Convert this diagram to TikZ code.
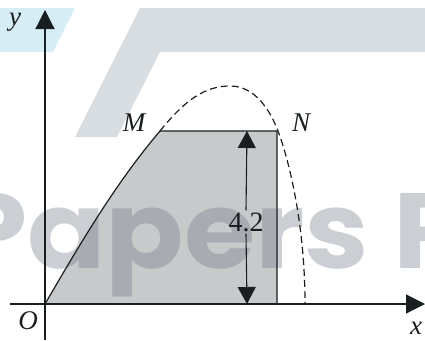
\documentclass[tikz,border=0pt]{standalone}
\usepackage{fontspec}
\setmainfont{Liberation Serif}
\newfontfamily\wmfont[FakeStretch=1.08]{Poppins}
\usetikzlibrary{arrows.meta}
\definecolor{regiongray}{RGB}{200,201,203}
\definecolor{bandgray}{RGB}{216,221,225}
\definecolor{bandblue}{RGB}{214,237,246}
\definecolor{wmgray}{RGB}{112,122,136}
\definecolor{ink}{RGB}{25,30,32}
\tikzset{
  axisline/.style={draw=ink, line width=1.2pt, -{Triangle[length=19pt,width=19pt]}},
  boundary/.style={draw=ink, line width=1.2pt},
  dashcurve/.style={draw=ink, line width=1.2pt, dash pattern=on 7pt off 4pt},
  dimarrow/.style={draw=ink, line width=1.1pt, -{Triangle[length=17pt,width=18pt]}},
  lab/.style={inner sep=0pt, text=ink, font=\fontsize{27}{30}\selectfont\itshape},
  numlab/.style={inner sep=2pt, text=ink, font=\fontsize{28}{30}\selectfont}
}
\begin{document}
\begin{tikzpicture}[x=1pt,y=-1pt]
\useasboundingbox (0,0) rectangle (425,340);
\clip (0,0) rectangle (425,340);
% background watermark logo shapes
\fill[bandblue] (0,8) -- (75,8) -- (53,52) -- (0,52) -- cycle;
\fill[bandgray] (140,8) -- (425,8) -- (425,52) -- (160,52) -- (117,137) -- (75,137) -- cycle;
% coordinates
\coordinate (O) at (45,304);
\coordinate (M) at (160,131);
\coordinate (N) at (277,131);
\coordinate (Nb) at (277,304);
\coordinate (peak) at (230,86);
\coordinate (Nc) at (278,131);
\coordinate (root) at (305,304);
\coordinate (top) at (247,131);
\coordinate (bot) at (247,304);
\coordinate (xs) at (10,304);
\coordinate (xe) at (425,304);
\coordinate (ys) at (45,340);
\coordinate (ye) at (45,10);
% shaded region
\fill[regiongray] (O) .. controls (80,244) and (115,184) .. (M) -- (N) -- (Nb) -- cycle;
% watermark text
\node[anchor=base west, inner sep=0pt, text=wmgray, opacity=0.36,
      font=\wmfont\bfseries\fontsize{107}{110}\selectfont] (wm) at (-45,268) {Papers P};
% boundaries
\draw[boundary] (O) .. controls (80,244) and (115,184) .. (M) -- (N) -- (Nb);
% dashed curve
\draw[dashcurve] (M) .. controls (185,100) and (205,86) .. (peak)
  .. controls (255,86) and (270,110) .. (Nc)
  .. controls (289,160) and (305,225) .. (root);
% axes
\draw[axisline] (xs) -- (xe);
\draw[axisline] (ys) -- (ye);
% dimension arrow
\node[numlab] (d) at (246,222) {4.2};
\draw[dimarrow] (d.north) -- (top);
\draw[dimarrow] (d.south) -- (bot);
% labels
\node[lab] (ylab) at (15,22) {y};
\node[lab] (xlab) at (416,328) {x};
\node[lab] (Olab) at (28,321) {O};
\node[lab] (Mlab) at (134,123) {M};
\node[lab] (Nlab) at (301,123) {N};
\end{tikzpicture}
\end{document}
